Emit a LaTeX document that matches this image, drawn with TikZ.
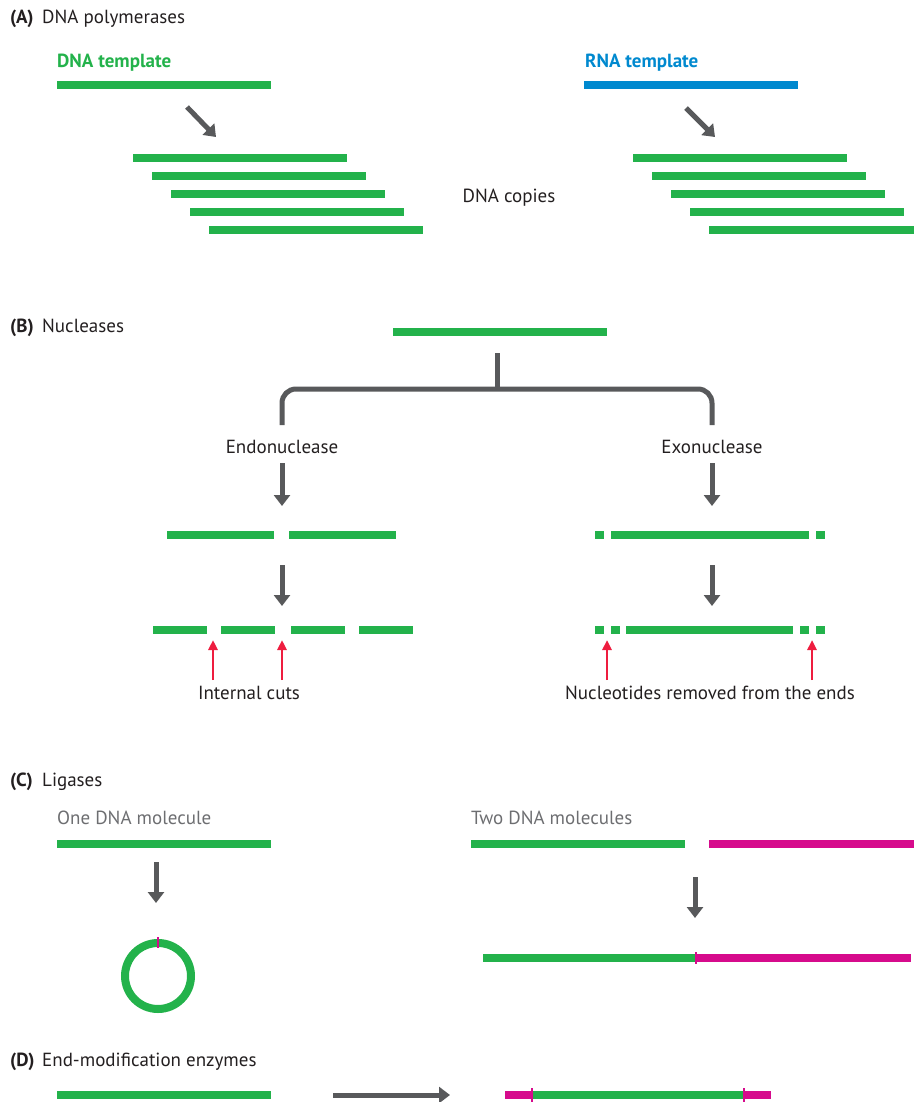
\documentclass[tikz,border=0pt]{standalone}
\usepackage{fontspec}
\setmainfont{PT Sans}
\usetikzlibrary{arrows.meta}
\definecolor{dnagreen}{HTML}{23B24B}
\definecolor{rnablue}{HTML}{0089CF}
\definecolor{ligmagenta}{HTML}{D60B8C}
\definecolor{arrgray}{HTML}{58595B}
\definecolor{cutred}{HTML}{EE1D3F}
\definecolor{labgray}{HTML}{6D6E71}
\definecolor{txtblack}{HTML}{231F20}

\begin{document}
\begin{tikzpicture}[
  x=1pt, y=-1pt,
  every node/.style={font=\fontsize{19}{23}\selectfont, text=txtblack, inner sep=0pt},
  panel/.style={anchor=base west},
  dnabar/.style={draw=dnagreen, line width=8pt},
  rnabar/.style={draw=rnablue, line width=8pt},
  magbar/.style={draw=ligmagenta, line width=8pt},
  nicktick/.style={draw=ligmagenta, line width=2.5pt},
  bigarrow/.style={draw=arrgray, line width=5pt, -{Triangle[width=16pt, length=11pt]}},
  cutarrow/.style={draw=cutred, line width=2.5pt, -{Triangle[width=9pt, length=10pt]}},
]
\useasboundingbox (0,0) rectangle (914,1102);

% (A) DNA polymerases
\node[panel] (lblA) at (10,24) {\bfseries (A)};
\node[panel] (titA) at (42,24) {DNA polymerases};

\node[panel, text=dnagreen] (dnatmp) at (57,68) {\bfseries DNA template};
\draw[dnabar] (57,85) -- (271,85);
\node[panel, text=rnablue] (rnatmp) at (585,68) {\bfseries RNA template};
\draw[rnabar] (584,85) -- (798,85);

\coordinate (dnaArr1) at (187,107);
\coordinate (dnaArr2) at (216,137);
\coordinate (rnaArr1) at (686,108);
\coordinate (rnaArr2) at (715,137);
\draw[bigarrow] (dnaArr1) -- (dnaArr2);
\draw[bigarrow] (rnaArr1) -- (rnaArr2);

\foreach \i in {0,...,4} {
  \draw[dnabar] ({133+19*\i},{158+18*\i}) -- ++(214,0);
  \draw[dnabar] ({633+19*\i},{158+18*\i}) -- ({min(847+19*\i,914)},{158+18*\i});
}
\node[anchor=base] (copies) at (509,203) {DNA copies};

% (B) Nucleases
\node[panel] (lblB) at (10,332) {\bfseries (B)};
\node[panel] (titB) at (42,332) {Nucleases};
\draw[dnabar] (393,332) -- (607,332);

\coordinate (stemtop) at (497,353);
\coordinate (brkmid) at (497,389);
\coordinate (endoup) at (282,425);
\coordinate (exoup) at (712,425);
\draw[arrgray, line width=5pt] (stemtop) -- (brkmid);
\draw[arrgray, line width=5pt, rounded corners=14pt] (endoup) |- (brkmid) -| (exoup);

\node (endo) at (282,447) {Endonuclease};
\node (exo) at (712,447) {Exonuclease};

% endonuclease branch
\coordinate (endoA1) at (282,463);
\coordinate (endoA2) at (282,506);
\coordinate (endoB1) at (282,565);
\coordinate (endoB2) at (282,606);
\draw[bigarrow] (endoA1) -- (endoA2);
\draw[dnabar] (167,535) -- (274,535);
\draw[dnabar] (289,535) -- (396,535);
\draw[bigarrow] (endoB1) -- (endoB2);
\foreach \a/\b in {153/207, 221/275, 291/345, 359/413}
  \draw[dnabar] (\a,630) -- (\b,630);
\coordinate (cut1) at (213,680);
\coordinate (cut1t) at (213,640);
\coordinate (cut2) at (282,680);
\coordinate (cut2t) at (282,640);
\draw[cutarrow] (cut1) -- (cut1t);
\draw[cutarrow] (cut2) -- (cut2t);
\node[anchor=base] (intcuts) at (249,699) {Internal cuts};

% exonuclease branch
\coordinate (exoA1) at (712,463);
\coordinate (exoA2) at (712,506);
\coordinate (exoB1) at (712,565);
\coordinate (exoB2) at (712,606);
\draw[bigarrow] (exoA1) -- (exoA2);
\foreach \a/\b in {595/604, 611/809, 816/825}
  \draw[dnabar] (\a,535) -- (\b,535);
\draw[bigarrow] (exoB1) -- (exoB2);
\foreach \a/\b in {595/604, 611/620, 626/793, 800/809, 816/825}
  \draw[dnabar] (\a,630) -- (\b,630);
\coordinate (end1) at (607,680);
\coordinate (end1t) at (607,640);
\coordinate (end2) at (812,680);
\coordinate (end2t) at (812,640);
\draw[cutarrow] (end1) -- (end1t);
\draw[cutarrow] (end2) -- (end2t);
\node[anchor=base] (removed) at (710,699) {Nucleotides removed from the ends};

% (C) Ligases
\node[panel] (lblC) at (10,786) {\bfseries (C)};
\node[panel] (titC) at (42,786) {Ligases};

\node[panel, text=labgray] (onemol) at (57,824) {One DNA molecule};
\draw[dnabar] (57,844) -- (271,844);
\coordinate (ligA1) at (156,862);
\coordinate (ligA2) at (156,903);
\draw[bigarrow] (ligA1) -- (ligA2);
\coordinate (ring) at (158,976);
\draw[dnagreen, line width=8pt] (ring) circle[radius=33pt];
\draw[nicktick] (158,937) -- (158,948);

\node[panel, text=labgray] (twomol) at (471,824) {Two DNA molecules};
\draw[dnabar] (471,844) -- (685,844);
\draw[magbar] (709,844) -- (914,844);
\coordinate (ligB1) at (695,877);
\coordinate (ligB2) at (695,918);
\draw[bigarrow] (ligB1) -- (ligB2);
\draw[dnabar] (483,958) -- (696,958);
\draw[magbar] (696,958) -- (911,958);
\draw[nicktick] (696,952) -- (696,964);

% (D) End-modification enzymes
\node[panel] (lblD) at (10,1066) {\bfseries (D)};
\node[panel] (titD) at (42,1066) {End-modification enzymes};
\draw[dnabar] (57,1095) -- (271,1095);
\coordinate (modA1) at (333,1095);
\coordinate (modA2) at (450,1095);
\draw[bigarrow] (modA1) -- (modA2);
\draw[magbar] (505,1095) -- (532,1095);
\draw[dnabar] (532,1095) -- (744,1095);
\draw[magbar] (744,1095) -- (771,1095);
\draw[nicktick] (532,1088) -- (532,1102);
\draw[nicktick] (744,1088) -- (744,1102);

\end{tikzpicture}
\end{document}
